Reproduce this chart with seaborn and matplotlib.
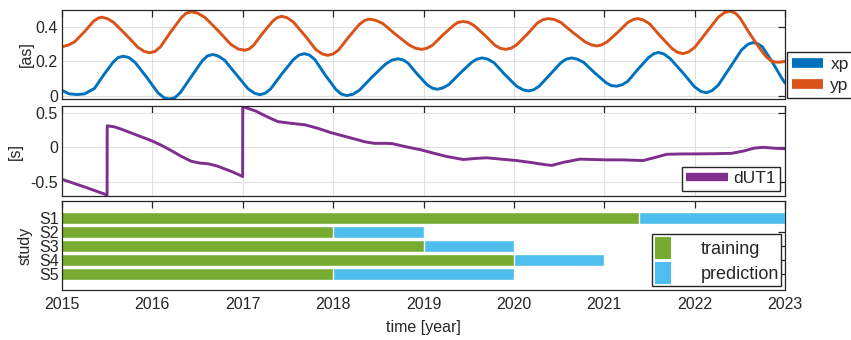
import numpy as np
import pandas as pd
import matplotlib
matplotlib.use("Agg")
import matplotlib.pyplot as plt
from matplotlib.lines import Line2D
from matplotlib.patches import Patch
import seaborn as sns

# ---- polar motion (arcsec) ----
t_xp = [2015.00, 2015.08, 2015.17, 2015.25, 2015.36, 2015.46, 2015.57, 2015.62,
        2015.68, 2015.74, 2015.81, 2015.94, 2016.06, 2016.13, 2016.19, 2016.25,
        2016.31, 2016.43, 2016.55, 2016.61, 2016.67, 2016.73, 2016.80, 2016.93,
        2017.06, 2017.13, 2017.19, 2017.25, 2017.31, 2017.43, 2017.56, 2017.62,
        2017.68, 2017.74, 2017.80, 2017.91, 2018.03, 2018.09, 2018.15, 2018.22,
        2018.29, 2018.43, 2018.58, 2018.65, 2018.72, 2018.78, 2018.83, 2018.93,
        2019.04, 2019.10, 2019.15, 2019.21, 2019.28, 2019.40, 2019.53, 2019.59,
        2019.65, 2019.71, 2019.78, 2019.90, 2020.03, 2020.10, 2020.16, 2020.22,
        2020.28, 2020.40, 2020.52, 2020.58, 2020.64, 2020.70, 2020.77, 2020.89,
        2021.02, 2021.08, 2021.14, 2021.20, 2021.26, 2021.37, 2021.49, 2021.55,
        2021.60, 2021.66, 2021.73, 2021.87, 2022.00, 2022.07, 2022.13, 2022.19,
        2022.26, 2022.39, 2022.52, 2022.59, 2022.65, 2022.70, 2022.75, 2022.86,
        2022.96, 2023.00]
xp = [0.030, 0.010, 0.006, 0.010, 0.042, 0.120, 0.198, 0.222,
      0.230, 0.222, 0.193, 0.105, 0.017, -0.013, -0.020, -0.012,
      0.018, 0.110, 0.202, 0.232, 0.240, 0.231, 0.206, 0.122,
      0.039, 0.014, 0.005, 0.014, 0.040, 0.125, 0.210, 0.236,
      0.245, 0.236, 0.209, 0.122, 0.036, 0.009, 0.000, 0.008,
      0.031, 0.108, 0.184, 0.207, 0.215, 0.207, 0.189, 0.126,
      0.063, 0.043, 0.037, 0.044, 0.064, 0.128, 0.193, 0.213,
      0.220, 0.213, 0.192, 0.123, 0.055, 0.034, 0.027, 0.034,
      0.055, 0.123, 0.192, 0.213, 0.220, 0.213, 0.195, 0.135,
      0.075, 0.058, 0.055, 0.064, 0.083, 0.152, 0.222, 0.245,
      0.252, 0.243, 0.216, 0.133, 0.051, 0.024, 0.017, 0.028,
      0.060, 0.163, 0.267, 0.300, 0.310, 0.302, 0.285, 0.195,
      0.106, 0.073]

t_yp = [2015.00, 2015.07, 2015.14, 2015.25, 2015.35, 2015.40, 2015.44, 2015.50,
        2015.57, 2015.70, 2015.84, 2015.91, 2015.97, 2016.03, 2016.09, 2016.20,
        2016.32, 2016.37, 2016.43, 2016.50, 2016.58, 2016.73, 2016.87, 2016.95,
        2017.02, 2017.07, 2017.12, 2017.22, 2017.33, 2017.38, 2017.43, 2017.49,
        2017.56, 2017.69, 2017.81, 2017.88, 2017.94, 2018.00, 2018.06, 2018.17,
        2018.29, 2018.35, 2018.40, 2018.47, 2018.55, 2018.69, 2018.84, 2018.91,
        2018.98, 2019.04, 2019.10, 2019.21, 2019.33, 2019.38, 2019.44, 2019.50,
        2019.56, 2019.68, 2019.79, 2019.85, 2019.91, 2019.97, 2020.03, 2020.15,
        2020.26, 2020.32, 2020.38, 2020.45, 2020.52, 2020.65, 2020.79, 2020.86,
        2020.92, 2020.97, 2021.03, 2021.15, 2021.26, 2021.32, 2021.37, 2021.43,
        2021.50, 2021.62, 2021.75, 2021.81, 2021.87, 2021.93, 2022.00, 2022.13,
        2022.26, 2022.33, 2022.39, 2022.45, 2022.50, 2022.60, 2022.67, 2022.74,
        2022.79, 2022.84, 2022.89, 2022.95, 2023.00]
yp = [0.285, 0.295, 0.314, 0.374, 0.435, 0.452, 0.458, 0.450,
      0.428, 0.360, 0.282, 0.258, 0.250, 0.258, 0.285, 0.370,
      0.455, 0.480, 0.490, 0.482, 0.457, 0.378, 0.298, 0.272,
      0.265, 0.272, 0.294, 0.364, 0.434, 0.455, 0.463, 0.455,
      0.430, 0.349, 0.268, 0.243, 0.235, 0.243, 0.266, 0.341,
      0.416, 0.439, 0.447, 0.440, 0.421, 0.358, 0.296, 0.277,
      0.270, 0.277, 0.294, 0.352, 0.409, 0.427, 0.433, 0.427,
      0.409, 0.352, 0.294, 0.276, 0.270, 0.277, 0.296, 0.360,
      0.424, 0.443, 0.450, 0.444, 0.427, 0.370, 0.313, 0.296,
      0.290, 0.296, 0.313, 0.370, 0.427, 0.444, 0.450, 0.442,
      0.420, 0.348, 0.275, 0.253, 0.245, 0.254, 0.281, 0.369,
      0.457, 0.485, 0.493, 0.482, 0.455, 0.370, 0.314, 0.262,
      0.228, 0.205, 0.196, 0.195, 0.200]

# ---- UT1-UTC (s), leap seconds at 2015.5 and 2017.0 ----
t_dut1 = [2015.00, 2015.25, 2015.499, 2015.50, 2015.58, 2015.66, 2015.80, 2015.99,
          2016.10, 2016.21, 2016.32, 2016.43, 2016.52, 2016.62, 2016.72, 2016.80,
          2016.90, 2016.999, 2017.00, 2017.14, 2017.27, 2017.39, 2017.54, 2017.69,
          2017.84, 2017.98, 2018.11, 2018.24, 2018.35, 2018.46, 2018.56, 2018.65,
          2018.80, 2018.97, 2019.10, 2019.25, 2019.44, 2019.57, 2019.70, 2019.86,
          2020.03, 2020.20, 2020.35, 2020.42, 2020.55, 2020.73, 2020.88, 2021.03,
          2021.20, 2021.43, 2021.55, 2021.69, 2021.85, 2022.02, 2022.20, 2022.41,
          2022.55, 2022.66, 2022.76, 2022.88, 2023.00]
dut1 = [-0.46, -0.57, -0.685, 0.31, 0.295, 0.26, 0.19, 0.096,
        0.03, -0.047, -0.13, -0.20, -0.225, -0.237, -0.27, -0.31,
        -0.36, -0.42, 0.586, 0.524, 0.44, 0.37, 0.345, 0.324,
        0.27, 0.21, 0.165, 0.12, 0.08, 0.057, 0.058, 0.055,
        0.01, -0.035, -0.08, -0.13, -0.175, -0.16, -0.15, -0.17,
        -0.19, -0.22, -0.25, -0.26, -0.215, -0.17, -0.175, -0.18,
        -0.18, -0.19, -0.15, -0.10, -0.095, -0.094, -0.092, -0.086,
        -0.05, -0.01, 0.00, -0.012, -0.02]

# ---- study set-up: training / prediction intervals ----
studies = ["S1", "S2", "S3", "S4", "S5"]
train_end = [2021.38, 2018.0, 2019.0, 2020.0, 2018.0]
pred_end = [2023.0, 2019.0, 2020.0, 2021.0, 2020.0]

years = list(range(2015, 2024))

C_XP = "#0072BD"
C_YP = "#D95319"
C_DUT = "#7E2F8E"
C_TRAIN = "#77AC30"
C_PRED = "#4DBEEE"
AX_COL = "#262626"
GRID_COL = "#dedede"
LW = 2.1

sns.set_style("white")
plt.rcParams["font.family"] = ["Liberation Sans", "DejaVu Sans"]
plt.rcParams["font.size"] = 11.5

fig = plt.figure(figsize=(8.51, 3.40), dpi=100)
L, W = 62 / 851, 723 / 851
ax1 = fig.add_axes([L, 1 - 99 / 340, W, 89 / 340])
ax2 = fig.add_axes([L, 1 - 196 / 340, W, 90 / 340])
ax3 = fig.add_axes([L, 1 - 290 / 340, W, 89 / 340])


def style_axis(ax, grid=True):
    for s in ax.spines.values():
        s.set_color(AX_COL)
        s.set_linewidth(0.9)
        s.set_visible(True)
    ax.tick_params(direction="in", length=5, width=0.9, color=AX_COL,
                   labelcolor=AX_COL, top=True, right=True, labelsize=11.5,
                   pad=3)
    ax.set_xlim(2015, 2023)
    ax.set_xticks(years)
    if grid:
        ax.grid(True, color=GRID_COL, linewidth=0.7)
        ax.set_axisbelow(True)
    else:
        ax.grid(False)


def bar_handle(color, lw):
    return Line2D([], [], color=color, lw=lw, solid_capstyle="butt")


# --- panel 1: xp, yp ---
df_pm = pd.concat([
    pd.DataFrame({"t": t_xp, "v": xp, "s": "xp"}),
    pd.DataFrame({"t": t_yp, "v": yp, "s": "yp"}),
])
sns.lineplot(data=df_pm, x="t", y="v", hue="s", palette={"xp": C_XP, "yp": C_YP},
             estimator=None, sort=False, lw=LW, ax=ax1, legend=False)
style_axis(ax1)
ax1.set_ylim(-0.02, 0.5)
ax1.set_yticks([0, 0.2, 0.4])
ax1.set_yticklabels(["0", "0.2", "0.4"])
ax1.set_xticklabels([])
ax1.set_xlabel("")
ax1.set_ylabel("[as]", color=AX_COL, labelpad=1)
fig.legend([bar_handle(C_XP, 7), bar_handle(C_YP, 7)], ["xp", "yp"],
           loc="lower left", bbox_to_anchor=(787 / 851, 1 - 98 / 340),
           fancybox=False, framealpha=1, edgecolor=AX_COL, handlelength=1.8,
           handletextpad=0.4, borderpad=0.3, labelspacing=0.3,
           fontsize=12.5, borderaxespad=0)

# --- panel 2: dUT1 ---
sns.lineplot(x=t_dut1, y=dut1, color=C_DUT, estimator=None, sort=False,
             lw=LW, ax=ax2)
style_axis(ax2)
ax2.set_ylim(-0.70, 0.595)
ax2.set_yticks([-0.5, 0, 0.5])
ax2.set_yticklabels(["-0.5", "0", "0.5"])
ax2.set_xticklabels([])
ax2.set_xlabel("")
ax2.set_ylabel("[s]", color=AX_COL, labelpad=5)
ax2.legend([bar_handle(C_DUT, 6)], ["dUT1"], loc="lower right",
           fancybox=False, framealpha=1, edgecolor=AX_COL, handlelength=2.4,
           handletextpad=0.3, borderpad=0.25, borderaxespad=0.3,
           fontsize=12.5)

# --- panel 3: study intervals ---
df_st = pd.DataFrame({"study": studies, "train_end": train_end,
                      "pred_end": pred_end})
sns.barplot(data=df_st, x="pred_end", y="study", orient="h", color=C_PRED,
            width=0.86, saturation=1, ax=ax3)
sns.barplot(data=df_st, x="train_end", y="study", orient="h", color=C_TRAIN,
            width=0.86, saturation=1, ax=ax3)
style_axis(ax3, grid=False)
ax3.set_ylim(5.12, -1.24)
ax3.set_xticklabels([str(y) for y in years])
ax3.tick_params(axis="x", pad=5)
ax3.set_xlabel("time [year]", color=AX_COL, labelpad=6)
ax3.set_ylabel("study", color=AX_COL, labelpad=5)
ax3.tick_params(axis="y", pad=2)
h_st = [Patch(facecolor=C_TRAIN, edgecolor="none"),
        Patch(facecolor=C_PRED, edgecolor="none")]
ax3.legend(h_st, ["training", "prediction"], loc="lower right",
           fancybox=False, framealpha=1, edgecolor=AX_COL, handlelength=0.9,
           handleheight=1.5, handletextpad=1.6, borderpad=0.15,
           labelspacing=0.15, borderaxespad=0.2, fontsize=13)

fig.savefig("out.png", dpi=100)
